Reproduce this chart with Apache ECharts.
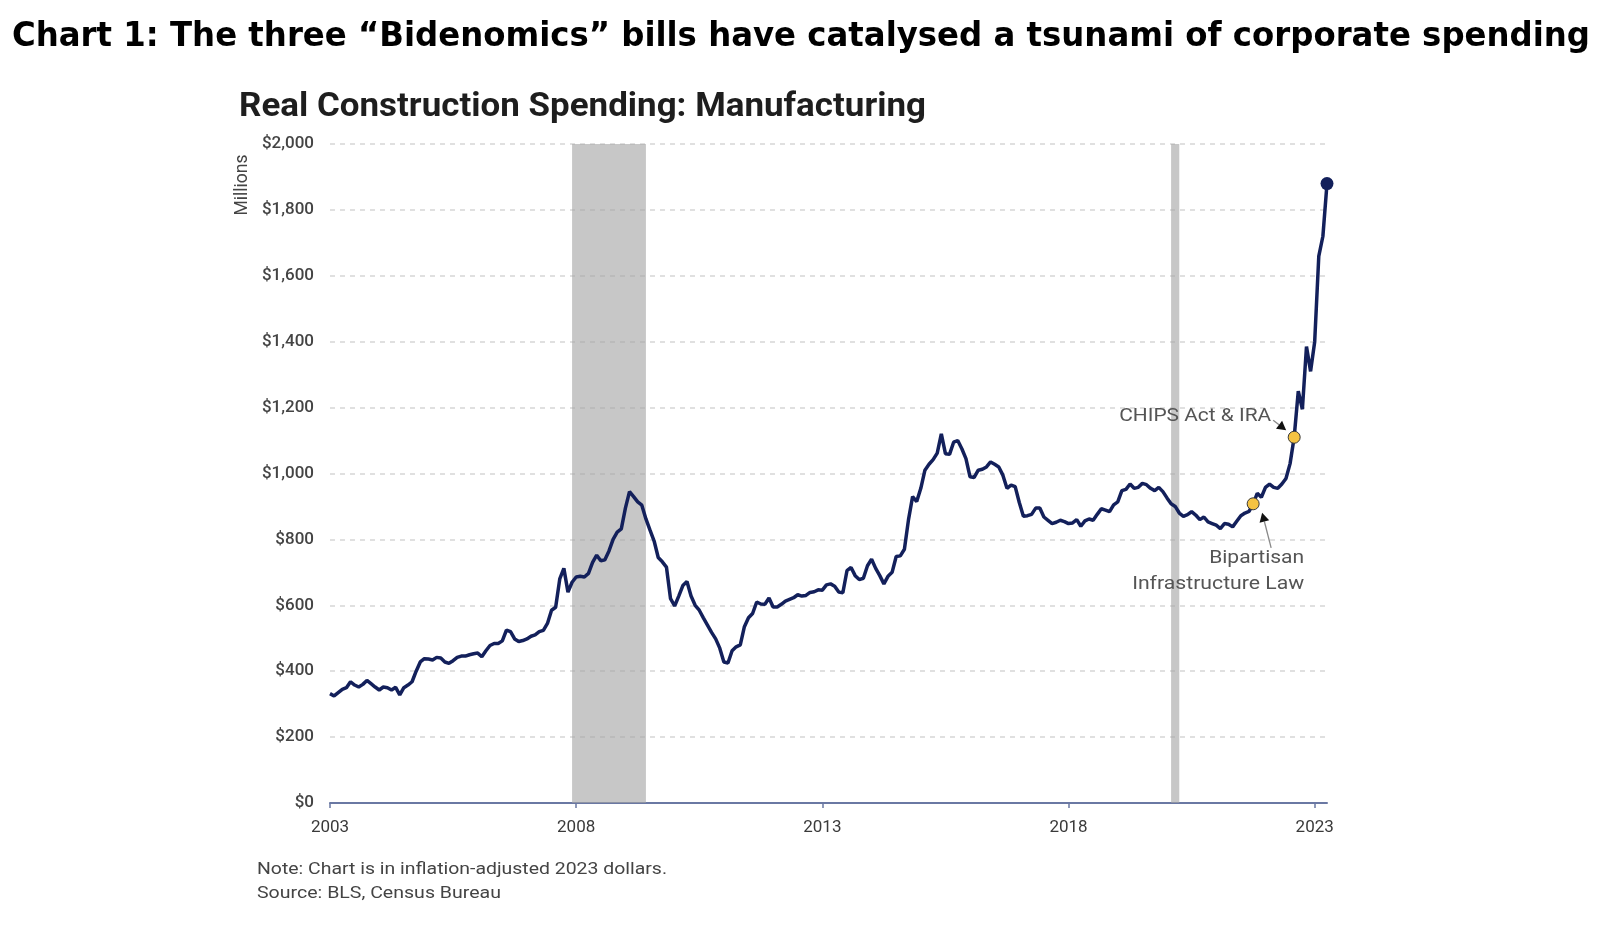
<!DOCTYPE html>
<html><head><meta charset="utf-8">
<script src="https://cdn.jsdelivr.net/npm/echarts@6/dist/echarts.min.js"></script>
<style>html,body{margin:0;padding:0;background:#fff}#c{width:1614px;height:930px}</style>
</head><body><div id="c"></div>
<script>
// ---- data ----
const startYear = 2003;            // first month: January 2003, monthly data
const spending = [
  332,325,335,345,350,368,358,352,360,372,362,352,
  343,352,350,343,351,328,350,358,368,400,428,438,
  437,434,442,440,428,424,432,442,446,446,450,453,
  455,444,462,478,484,484,492,525,520,498,490,493,
  498,506,510,520,524,545,585,594,680,712,640,670,
  686,688,686,697,730,752,735,738,765,800,822,832,
  895,945,930,914,904,862,828,795,745,732,716,620,
  598,628,660,672,628,600,585,562,540,518,498,470,
  428,425,462,474,480,535,562,575,610,604,603,622,
  595,595,603,613,618,623,632,628,630,639,641,647,
  646,662,665,658,640,638,705,715,690,678,682,720,
  740,712,690,665,688,700,748,750,770,860,930,915,
  955,1010,1028,1042,1062,1120,1060,1058,1095,1100,1075,1045,
  990,988,1010,1013,1020,1035,1028,1020,995,955,965,960,
  912,870,872,876,895,895,868,858,848,852,858,854,
  848,850,860,840,856,862,858,876,893,889,884,905,
  914,948,952,968,955,958,970,966,955,948,958,945,
  926,908,900,880,870,875,884,874,860,868,853,848,
  843,833,848,846,838,855,872,880,885,908,940,928,
  958,968,958,955,968,985,1030,1110,1250,1195,1385,1310,
  1400,1660,1720,1880
];
const xTickLabels = [2003, 2008, 2013, 2018, 2023];
const recessionStart = ['2007-12', '2020-02'];
const recessionEnd   = ['2009-06', '2020-04'];
const eventNames  = ['Bipartisan Infrastructure Law', 'CHIPS Act & IRA'];
const eventMonths = ['2021-10', '2022-08'];
const titleText = 'Chart 1: The three \u201cBidenomics\u201d bills have catalysed a tsunami of corporate spending';
const subtitleText = 'Real Construction Spending: Manufacturing';
const noteLines = ['Note: Chart is in inflation-adjusted 2023 dollars.', 'Source: BLS, Census Bureau'];

// ---- helpers ----
const monthToYear = s => { const [y, m] = s.split('-').map(Number); return y + (m - 1) / 12; };
const idxOf = s => { const [y, m] = s.split('-').map(Number); return (y - startYear) * 12 + (m - 1); };
const lineData = spending.map((v, i) => [startYear + i / 12, v]);
const lastX = startYear + (spending.length - 1) / 12;
const eventData = eventMonths.map(s => lineData[idxOf(s)]);
const endData = [lineData[lineData.length - 1]];

const mctx = document.createElement('canvas').getContext('2d');
function fitScale(text, font, width) { mctx.font = font; return width / mctx.measureText(text).width; }

const chart = echarts.init(document.getElementById('c'), null, {renderer: 'canvas'});
const FONT = 'Roboto, "Noto Sans", sans-serif';
const NAVY = '#13205b';

chart.setOption({
  animation: false,
  backgroundColor: '#fff',
  grid: {left: 330, right: 1614 - 1327, top: 144, bottom: 930 - 803, containLabel: false},
  xAxis: {
    type: 'value', min: startYear, max: lastX,
    axisLine: {show: true, lineStyle: {color: '#6a78a3', width: 2}},
    axisTick: {show: true, length: 5, customValues: xTickLabels, lineStyle: {color: '#6a78a3', width: 1.5}},
    axisLabel: {customValues: xTickLabels, color: '#3a3a3a', fontSize: 17, fontFamily: FONT, margin: 16,
      formatter: v => String(Math.round(v))},
    splitLine: {show: false}
  },
  yAxis: {
    type: 'value', min: 0, max: 2000, interval: 200,
    axisLine: {show: false}, axisTick: {show: false},
    axisLabel: {color: '#444', fontSize: 17, fontFamily: FONT, fontWeight: 500, margin: 16,
      formatter: v => '$' + v.toLocaleString('en-US')},
    splitLine: {show: true, lineStyle: {color: '#d6d6d6', width: 1.5, type: [5, 5]}}
  },
  series: [
    {
      type: 'line', data: lineData, showSymbol: false, z: 3,
      lineStyle: {color: NAVY, width: 3.5}, itemStyle: {color: NAVY},
      markArea: {
        silent: true,
        itemStyle: {color: 'rgba(165,165,165,0.62)'},
        data: recessionStart.map((s, k) => [{xAxis: monthToYear(s)}, {xAxis: monthToYear(recessionEnd[k])}])
      }
    },
    {
      type: 'scatter', data: eventData, symbolSize: 12, z: 5,
      itemStyle: {color: '#f5c342', borderColor: '#3a3a3a', borderWidth: 1, opacity: 1}
    },
    {
      type: 'scatter', data: endData, symbolSize: 13, z: 5,
      itemStyle: {color: NAVY, opacity: 1}
    }
  ]
});

// annotations positioned relative to the event points
const pB = chart.convertToPixel({gridIndex: 0}, eventData[0]);
const pC = chart.convertToPixel({gridIndex: 0}, eventData[1]);
function arrow(x1, y1, x2, y2, color, head) {
  const dx = x2 - x1, dy = y2 - y1, L = Math.hypot(dx, dy), ux = dx / L, uy = dy / L;
  const bx = x2 - ux * head, by = y2 - uy * head, nx = -uy, ny = ux, w = head * 0.55;
  return [
    {type: 'polyline', shape: {points: [[x1, y1], [bx, by]]}, style: {stroke: color, lineWidth: 1.3, fill: null}, z: 10},
    {type: 'polygon', shape: {points: [[x2, y2], [bx + nx * w, by + ny * w], [bx - nx * w, by - ny * w]]}, style: {fill: '#111'}, z: 10}
  ];
}
function txt(text, font, x, y, align, fill, width) {
  const s = width ? fitScale(text, font, width) : 1;
  return {type: 'text', x: x, y: y, scaleX: s, scaleY: 1, z: 20,
    style: {text: text, font: font, fill: fill, align: align, verticalAlign: 'middle'}};
}
const TF = 'bold 34px "DejaVu Sans Condensed", "DejaVu Sans", sans-serif';
const SF = 'bold 33px Roboto, sans-serif';
const NF = '17px Roboto, sans-serif';
const AF = '17.5px Roboto, sans-serif';
const graphics = [
  txt(titleText, TF, 12, 37, 'left', '#000', 1578),
  txt(subtitleText, SF, 239, 108, 'left', '#1e1e1e', 687),
  {type: 'text', x: 243, y: 185, rotation: Math.PI / 2, z: 20,
    style: {text: 'Millions', font: '17.5px Roboto, sans-serif', fill: '#444', align: 'center', verticalAlign: 'middle'}},
  txt(noteLines[0], NF, 257, 870, 'left', '#444', 410),
  txt(noteLines[1], NF, 257, 894, 'left', '#444', 244),
  txt(eventNames[1], AF, pC[0] - 23, pC[1] - 21, 'right', '#555', 152),
  txt('Bipartisan', AF, pB[0] + 51, pB[1] + 55, 'right', '#555', 95),
  txt('Infrastructure Law', AF, pB[0] + 51, pB[1] + 81, 'right', '#555', 172),
  ...arrow(pC[0] - 21, pC[1] - 17, pC[0] - 8, pC[1] - 7, '#888', 9),
  ...arrow(pB[0] + 18, pB[1] + 44, pB[0] + 9, pB[1] + 9, '#888', 9)
];
chart.setOption({graphic: graphics});
</script>
</body></html>
